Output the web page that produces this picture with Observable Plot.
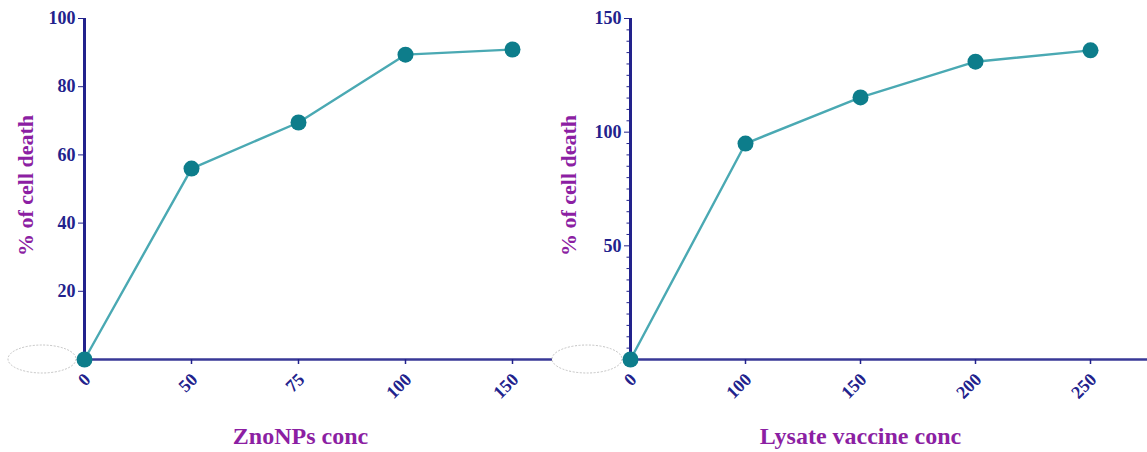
<!DOCTYPE html>
<html>
<head>
<meta charset="utf-8">
<script src="https://cdn.jsdelivr.net/npm/d3@7"></script>
<script src="https://cdn.jsdelivr.net/npm/@observablehq/plot@0.6"></script>
<style>
  html, body { margin: 0; padding: 0; background: #fff; }
  #wrap { position: relative; width: 1147px; height: 452px; overflow: hidden; background: #fff; }
  #wrap > div { position: absolute; top: 0; }
  svg { overflow: visible; }
</style>
</head>
<body>
<div id="wrap"><div id="left" style="left:0"></div><div id="right" style="left:552px"></div></div>
<script>
// ---- data ----
const znoConc = ["0", "50", "75", "100", "150"];
const znoDeath = [0, 56, 69.5, 89.4, 90.9];
const lysConc = ["0", "100", "150", "200", "250"];
const lysDeath = [0, 95, 115.3, 131, 136];
const znoYTicks = [20, 40, 60, 80, 100];
const lysYTicks = [50, 100, 150];
const yLabel = "% of cell death";
const znoXLabel = "ZnoNPs conc";
const lysXLabel = "Lysate vaccine conc";

const NAVY = "#22228c";
const PURPLE = "#8c1fa3";
const LINE = "#4aa9b3";
const DOT = "#0d7d8b";
const FONT = "'Liberation Serif', 'Times New Roman', serif";

function panel({conc, death, yMax, yTicks, minor, xLabel, width, marginLeft, padding, xLabelDx, yLabelDx, ellipseOffset, ellipseRx}) {
  const data = conc.map((c, i) => ({c, v: death[i]}));
  const marks = [
    Plot.ruleY([0], {stroke: NAVY, strokeWidth: 2.5, strokeOpacity: 0.9}),
    Plot.ruleX([conc[0]], {stroke: NAVY, strokeWidth: 3}),
    Plot.axisX({ticks: conc, tickSize: 5, text: null, color: NAVY, strokeWidth: 1.5, label: null}),
    Plot.axisX({ticks: conc, tickSize: 0, tickRotate: -45, tickPadding: 17, dx: 3, color: NAVY, fontSize: 18, fontWeight: "bold", label: null}),
    Plot.axisY({ticks: yTicks, tickSize: 6, tickPadding: 3, color: NAVY, fontSize: 18, fontWeight: "bold", label: null})
  ];
  if (minor) marks.push(Plot.axisY({ticks: minor, tickSize: 3.5, text: null, color: NAVY, label: null}));
  marks.push(
    Plot.line(data, {x: "c", y: "v", stroke: LINE, strokeWidth: 2.4}),
    Plot.dot(data, {x: "c", y: "v", r: 8, fill: DOT}),
    Plot.text([xLabel], {frameAnchor: "bottom", dx: xLabelDx, dy: 77, lineAnchor: "middle", fill: PURPLE, fontSize: 24, fontWeight: "bold"}),
    Plot.text([yLabel], {frameAnchor: "left", rotate: -90, dx: yLabelDx, dy: -3.5, textAnchor: "middle", lineAnchor: "middle", fill: PURPLE, fontSize: 22, fontWeight: "bold"})
  );
  const p = Plot.plot({
    width, height: 452,
    marginLeft, marginRight: 0, marginTop: 18, marginBottom: 93,
    style: {fontFamily: FONT, background: "transparent", overflow: "visible"},
    x: {type: "point", domain: conc, padding, align: 0, axis: null},
    y: {domain: [0, yMax], axis: null},
    marks
  });
  // decorative dashed ellipse left of origin
  const sx = p.scale("x"), sy = p.scale("y");
  d3.select(p).insert("ellipse", ":first-child")
    .attr("cx", sx.apply(conc[0]) - ellipseOffset)
    .attr("cy", sy.apply(0))
    .attr("rx", ellipseRx).attr("ry", 14)
    .attr("fill", "#fff").attr("stroke", "#b5b5b5").attr("stroke-width", 0.8)
    .attr("stroke-dasharray", "2,1.5");
  return p;
}

document.getElementById("left").append(panel({
  conc: znoConc, death: znoDeath, yMax: 100, yTicks: znoYTicks, minor: null,
  xLabel: znoXLabel, width: 552, marginLeft: 84, padding: 0.1717,
  xLabelDx: -18, yLabelDx: -59, ellipseOffset: 42, ellipseRx: 34
}));
document.getElementById("right").append(panel({
  conc: lysConc, death: lysDeath, yMax: 150, yTicks: lysYTicks,
  minor: d3.range(5, 150, 5).filter(v => v % 50 !== 0),
  xLabel: lysXLabel, width: 595, marginLeft: 78, padding: 0.243,
  xLabelDx: -28.5, yLabelDx: -62, ellipseOffset: 43, ellipseRx: 35
}));
</script>
</body>
</html>
